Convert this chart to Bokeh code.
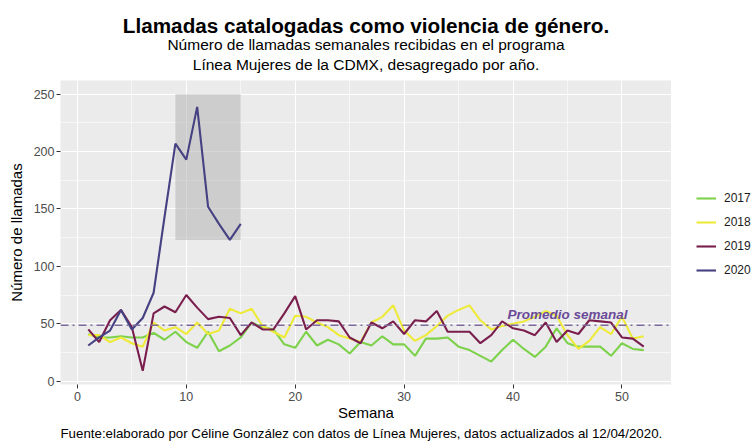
from bokeh.plotting import figure
from bokeh.layouts import row
from bokeh.models import Legend, LegendItem, Title, SingleIntervalTicker, Span, Range1d
from bokeh.core.properties import value
from bokeh.embed import file_html
from bokeh.resources import INLINE

# ---- data ----
semanas = list(range(1, 53))
semanas_2020 = list(range(1, 16))
llamadas_2017 = [41, 38, 38, 39, 38, 38, 42, 36, 43, 34, 29, 43, 26, 31, 38, 51, 47, 45, 32, 29,
                 43, 31, 36, 32, 24, 34, 31, 39, 32, 32, 22, 37, 37, 38, 30, 27, 22, 17, 27, 36,
                 28, 21, 30, 46, 33, 30, 30, 30, 22, 33, 28, 27]
llamadas_2018 = [40, 40, 34, 38, 33, 30, 51, 44, 47, 41, 51, 41, 44, 63, 59, 63, 48, 43, 38, 57,
                 56, 51, 47, 40, 37, 34, 51, 56, 66, 44, 35, 40, 48, 57, 62, 66, 53, 45, 48, 50,
                 52, 56, 61, 57, 40, 28, 35, 47, 41, 56, 37, 39]
llamadas_2019 = [45, 34, 53, 62, 47, 9, 59, 65, 60, 75, 64, 54, 56, 55, 40, 51, 45, 45, 59, 74,
                 45, 53, 53, 52, 38, 33, 51, 46, 52, 41, 53, 52, 61, 43, 43, 43, 33, 40, 52, 46,
                 44, 40, 51, 34, 44, 41, 53, 52, 51, 38, 37, 30]
llamadas_2020 = [31, 38, 44, 62, 45, 55, 77, 143, 207, 193, 239, 152, 137, 123, 137]
anios = ["2017", "2018", "2019", "2020"]
colores = ["#7DD14B", "#EEEA3A", "#7A1F4D", "#454182"]
promedio = 48.6
rect_semana_ini, rect_semana_fin = 9, 15
rect_tope = 250
x_ticks_intervalo = 10
y_ticks_intervalo = 50

FONT = "Liberation Sans"

p = figure(width=671, height=445, output_backend="svg", toolbar_location=None,
           x_range=Range1d(-1.55, 54.55), y_range=Range1d(-3, 262),
           min_border_left=60, min_border_right=0, min_border_top=80, min_border_bottom=61)
p.title = None
p.background_fill_color = "#EBEBEB"
p.border_fill_color = "white"
p.outline_line_color = None

xt = SingleIntervalTicker(interval=x_ticks_intervalo, num_minor_ticks=2)
yt = SingleIntervalTicker(interval=y_ticks_intervalo, num_minor_ticks=2)
p.xaxis.ticker = xt
p.yaxis.ticker = yt
p.xgrid.ticker = xt
p.ygrid.ticker = yt
for g in (p.xgrid, p.ygrid):
    g.grid_line_color = "white"
    g.grid_line_width = 1.1
    g.minor_grid_line_color = "white"
    g.minor_grid_line_width = 0.55

for ax in (p.xaxis, p.yaxis):
    ax.axis_line_color = None
    ax.major_tick_line_color = "#333333"
    ax.major_tick_out = 4
    ax.major_tick_in = 0
    ax.minor_tick_line_color = None
    ax.major_label_text_font = FONT
    ax.major_label_text_font_size = "12.5px"
    ax.major_label_text_color = "#4D4D4D"
    ax.axis_label_text_font = FONT
    ax.axis_label_text_font_size = "15px"
    ax.axis_label_text_font_style = "normal"
    ax.axis_label_text_color = "black"
p.xaxis.major_label_standoff = 3
p.yaxis.major_label_standoff = 2
p.xaxis.axis_label = "Semana"
p.yaxis.axis_label = "Número de llamadas"
p.xaxis.axis_label_standoff = 0
p.yaxis.axis_label_standoff = 6

# shaded rectangle over the 2020 peak
rect_base = min(llamadas_2020[rect_semana_ini - 1:rect_semana_fin])
p.quad(left=[rect_semana_ini], right=[rect_semana_fin], bottom=[rect_base], top=[rect_tope],
       fill_color="#B0B0B0", fill_alpha=0.5, line_color=None)

series = [(semanas, llamadas_2017), (semanas, llamadas_2018),
          (semanas, llamadas_2019), (semanas_2020, llamadas_2020)]
for (xs, ys), c in zip(series, colores):
    p.line(xs, ys, line_color=c, line_width=2.1)

p.add_layout(Span(location=promedio, dimension="width", line_color="#7E6A9C",
                  line_width=1.4, line_dash="8 4 2 4"))
p.text(x=[45], y=[58], text=["Promedio semanal"], text_font=value(FONT),
       text_font_style="bold italic", text_font_size="13.5px", text_color="#6A4A98",
       text_align="center", text_baseline="middle")

p.add_layout(Title(text="Fuente:elaborado por Céline González con datos de Línea Mujeres, datos actualizados al 12/04/2020.",
                   align="left", text_font=FONT, text_font_size="13.3px", text_font_style="normal",
                   text_color="black", standoff=0), "below")
p.add_layout(Title(text="Línea Mujeres de la CDMX, desagregado por año.",
                   align="center", text_font=FONT, text_font_size="15.5px", text_font_style="normal",
                   text_color="black", standoff=15), "above")
p.add_layout(Title(text="Número de llamadas semanales recibidas en el programa",
                   align="center", text_font=FONT, text_font_size="15.5px", text_font_style="normal",
                   text_color="black", standoff=-12), "above")
p.add_layout(Title(text="Llamadas catalogadas como violencia de género.", align="center",
                   text_font=FONT, text_font_size="20.7px", text_font_style="bold",
                   text_color="black", standoff=6), "above")

# ---- legend panel (separate narrow figure to the right of the plot) ----
pl = figure(width=84, height=445, output_backend="svg", toolbar_location=None,
            x_axis_type=None, y_axis_type=None, x_range=Range1d(0, 1), y_range=Range1d(0, 1),
            min_border=0)
pl.title = None
pl.grid.visible = False
pl.outline_line_color = None
pl.background_fill_color = "white"
pl.border_fill_color = "white"
# same series, outside this panel's ranges: only their legend keys are visible
key_renderers = [pl.line(xs, ys, line_color=c, line_width=2.1) for (xs, ys), c in zip(series, colores)]
legend = Legend(items=[LegendItem(label=a, renderers=[r]) for a, r in zip(anios, key_renderers)],
                location=(25, 102), padding=0, margin=0, spacing=0,
                glyph_width=20, glyph_height=24, label_standoff=8,
                label_text_font=FONT, label_text_font_size="12px", label_text_color="#1A1A1A",
                border_line_color=None, background_fill_alpha=0)
pl.add_layout(legend, "center")

layout = row(p, pl, spacing=0)
open("out.html", "w").write(file_html(layout, INLINE))
